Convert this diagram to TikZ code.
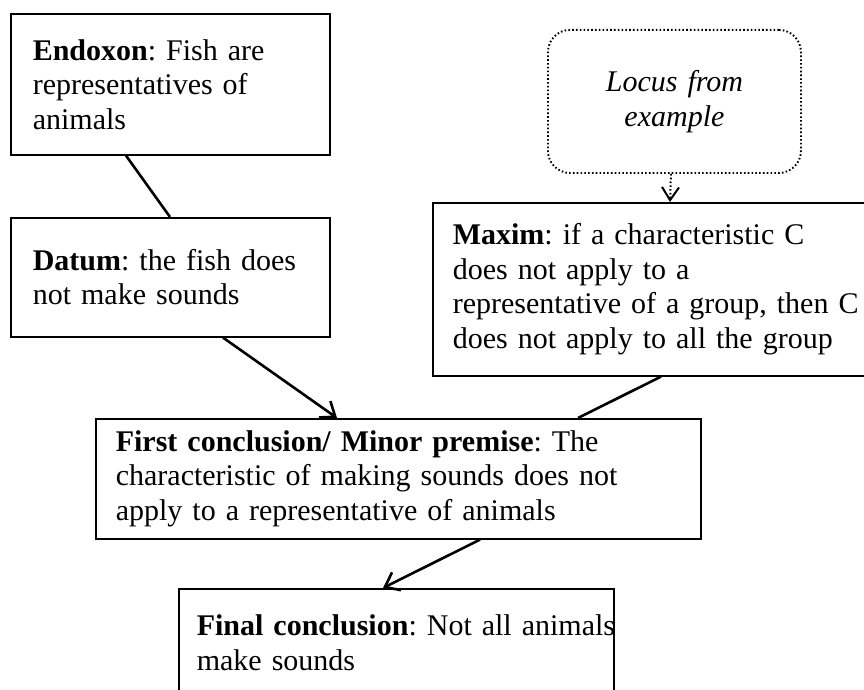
\documentclass[tikz,border=0pt]{standalone}
\usepackage{fontspec}
\setmainfont{Liberation Serif}
\usetikzlibrary{arrows.meta}
\frenchspacing
\begin{document}
\begin{tikzpicture}[x=1pt, y=-1pt,
  txt/.style={font=\fontsize{30}{34.5}\selectfont},
  argbox/.style={draw, line width=1.6pt, anchor=north west, align=left,
    inner xsep=20pt, inner ysep=0pt, txt},
  locusbox/.style={draw, line width=1.9pt, dash pattern=on 1.6pt off 2.2pt,
    rounded corners=22pt, anchor=north west, align=center, inner sep=0pt,
    font=\fontsize{30}{34.5}\selectfont\itshape},
  link/.style={line width=2.6pt},
  infer/.style={link, -{Straight Barb[length=13pt,width=20pt,line width=2.6pt]}},
]
% page and clipping frame
\fill[white] (0,0) rectangle (864,690);
\useasboundingbox (0,0) rectangle (864,690);
\clip (0,0) rectangle (864,690);

% boxes
\node[argbox, inner xsep=22pt, text width=275pt, minimum height=141pt] (endoxon) at (10,13)
  {\textbf{Endoxon}: Fish are\\representatives of\\animals};
\node[argbox, inner xsep=22pt, text width=275pt, minimum height=119pt] (datum) at (10,217)
  {\textbf{Datum}: the fish does\\not make sounds};
\node[locusbox, text width=253pt, minimum height=143pt] (locus) at (547,29)
  {Locus from\\example};
\node[argbox, text width=396pt, minimum height=173pt] (maxim) at (432,202)
  {\textbf{Maxim}: if a characteristic C\\does not apply to a\\\mbox{representative of a group, then C}\\does not apply to all the group};
\node[argbox, text width=565pt, minimum height=120pt] (first) at (95,418)
  {\textbf{First conclusion/ Minor premise}: The\\characteristic of making sounds does not\\apply to a representative of animals};
\node[argbox, inner xsep=18pt, text width=399pt, minimum height=108pt] (final) at (178,588)
  {\mbox{\textbf{Final conclusion}: Not all animals}\\make sounds};

% connectors
\draw[link] ([xshift=116pt]endoxon.south west) -- ([xshift=160pt]datum.north west);
\draw[infer] ([xshift=213pt]datum.south west) -- ([xshift=242pt]first.north west);
\draw[link] ([xshift=229pt]maxim.south west) -- ([xshift=483pt]first.north west);
\draw[infer] ([xshift=385pt]first.south west) -- ([xshift=205pt]final.north west);
\draw[line width=2pt, dash pattern=on 1.6pt off 2.2pt,
  -{Straight Barb[length=13pt,width=17pt,line width=2pt]}]
  ([xshift=-3.5pt]locus.south) -- ([xshift=238pt]maxim.north west);
\end{tikzpicture}
\end{document}
